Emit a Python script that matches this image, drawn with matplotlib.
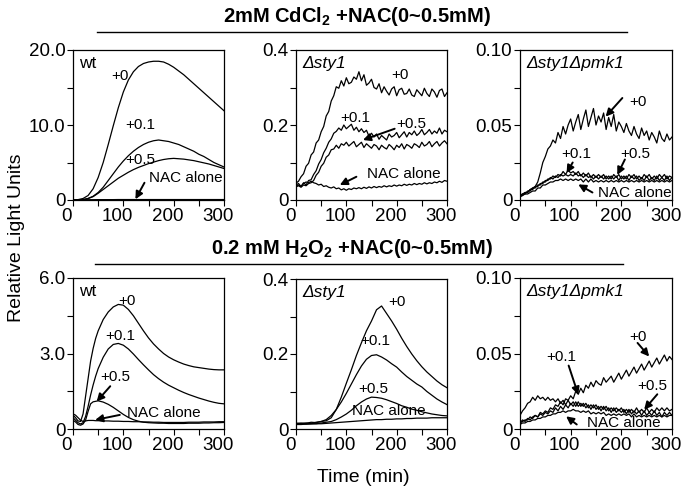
import numpy as np
import matplotlib
matplotlib.use('Agg')
import matplotlib.pyplot as plt
import matplotlib.transforms as mtransforms
from matplotlib.lines import Line2D

plt.rcParams['font.family'] = ['Liberation Sans', 'DejaVu Sans']
plt.rcParams['mathtext.fontset'] = 'custom'
plt.rcParams['mathtext.rm'] = 'Liberation Sans'
plt.rcParams['mathtext.bf'] = 'Liberation Sans:bold'

# ---------------- data ----------------
t10 = np.arange(0, 301, 10)
t5 = np.arange(0, 301, 5)
t_wt_h2o2 = [0, 5, 10, 15, 20, 25, 30, 35, 40, 45, 50] + list(range(60, 301, 10))

# CdCl2, wt
cd_wt_0 = [0.0, 0.05, 0.2, 0.6, 1.5, 3.0, 5.0, 7.4, 9.9, 12.3, 14.4, 16.0, 17.1, 17.8, 18.2, 18.4,
           18.5, 18.5, 18.4, 18.1, 17.7, 17.2, 16.7, 16.1, 15.5, 14.9, 14.3, 13.7, 13.1, 12.5, 11.9]
cd_wt_01 = [0.0, 0.0, 0.05, 0.2, 0.5, 1.0, 1.7, 2.6, 3.5, 4.4, 5.2, 5.9, 6.5, 7.0, 7.4, 7.7,
            7.9, 8.0, 7.9, 7.8, 7.6, 7.4, 7.1, 6.8, 6.5, 6.1, 5.8, 5.4, 5.0, 4.7, 4.4]
cd_wt_05 = [0.0, 0.0, 0.05, 0.2, 0.45, 0.9, 1.4, 1.9, 2.4, 2.9, 3.3, 3.7, 4.05, 4.35, 4.6, 4.85,
            5.05, 5.25, 5.4, 5.5, 5.55, 5.5, 5.45, 5.35, 5.25, 5.1, 4.95, 4.8, 4.6, 4.4, 4.2]
cd_wt_nac = [0.02, 0.03, 0.03, 0.04, 0.04, 0.05, 0.05, 0.05, 0.05, 0.06, 0.06, 0.06, 0.06, 0.06, 0.06, 0.06,
             0.06, 0.06, 0.06, 0.06, 0.06, 0.06, 0.06, 0.06, 0.06, 0.06, 0.06, 0.06, 0.06, 0.06, 0.06]

# CdCl2, sty1 deletion
cd_sty1_0 = [0.045, 0.050, 0.062, 0.070, 0.090, 0.098, 0.120, 0.128, 0.152, 0.160, 0.182, 0.196, 0.224,
             0.236, 0.264, 0.278, 0.302, 0.298, 0.318, 0.304, 0.326, 0.310, 0.314, 0.328, 0.322, 0.342,
             0.318, 0.334, 0.306, 0.312, 0.322, 0.300, 0.296, 0.310, 0.286, 0.302, 0.290, 0.280, 0.296,
             0.302, 0.278, 0.294, 0.298, 0.282, 0.284, 0.296, 0.280, 0.276, 0.294, 0.286, 0.278, 0.298,
             0.284, 0.276, 0.296, 0.288, 0.274, 0.292, 0.296, 0.276, 0.286]
cd_sty1_01 = [0.040, 0.044, 0.036, 0.046, 0.040, 0.052, 0.054, 0.068, 0.078, 0.096, 0.108, 0.126, 0.138,
              0.154, 0.163, 0.178, 0.183, 0.192, 0.186, 0.200, 0.190, 0.196, 0.202, 0.186, 0.194, 0.182,
              0.190, 0.180, 0.186, 0.170, 0.178, 0.168, 0.176, 0.162, 0.172, 0.166, 0.160, 0.176, 0.168,
              0.172, 0.180, 0.166, 0.174, 0.182, 0.168, 0.180, 0.174, 0.184, 0.172, 0.178, 0.188, 0.174,
              0.180, 0.188, 0.176, 0.184, 0.178, 0.192, 0.176, 0.186, 0.182]
cd_sty1_05 = [0.035, 0.038, 0.034, 0.040, 0.038, 0.044, 0.046, 0.052, 0.066, 0.074, 0.090, 0.098, 0.114,
              0.120, 0.134, 0.136, 0.146, 0.138, 0.150, 0.146, 0.154, 0.144, 0.150, 0.156, 0.142, 0.148,
              0.154, 0.140, 0.150, 0.144, 0.138, 0.148, 0.144, 0.134, 0.146, 0.140, 0.136, 0.148, 0.142,
              0.134, 0.146, 0.140, 0.150, 0.136, 0.148, 0.144, 0.138, 0.150, 0.146, 0.140, 0.154, 0.144,
              0.148, 0.156, 0.142, 0.150, 0.156, 0.144, 0.152, 0.158, 0.150]
cd_sty1_nac = [0.038, 0.040, 0.036, 0.044, 0.048, 0.046, 0.050, 0.046, 0.044, 0.040, 0.042, 0.036, 0.038,
               0.034, 0.032, 0.035, 0.030, 0.032, 0.027, 0.030, 0.026, 0.030, 0.028, 0.032, 0.030, 0.033,
               0.030, 0.034, 0.031, 0.035, 0.032, 0.036, 0.033, 0.036, 0.034, 0.038, 0.035, 0.038, 0.036,
               0.040, 0.037, 0.040, 0.038, 0.042, 0.039, 0.042, 0.040, 0.044, 0.041, 0.044, 0.042, 0.046,
               0.043, 0.046, 0.044, 0.048, 0.046, 0.050, 0.047, 0.052, 0.050]

# CdCl2, sty1 pmk1 double deletion
cd_dko_0 = [0.003, 0.004, 0.005, 0.005, 0.007, 0.008, 0.009, 0.012, 0.018, 0.025, 0.029, 0.034, 0.036,
            0.040, 0.038, 0.045, 0.041, 0.049, 0.044, 0.050, 0.054, 0.046, 0.052, 0.057, 0.047, 0.054,
            0.060, 0.049, 0.055, 0.061, 0.050, 0.056, 0.052, 0.058, 0.047, 0.055, 0.049, 0.057, 0.046,
            0.052, 0.049, 0.045, 0.051, 0.046, 0.043, 0.049, 0.044, 0.041, 0.048, 0.043, 0.046, 0.040,
            0.045, 0.042, 0.038, 0.046, 0.041, 0.039, 0.044, 0.040, 0.042]
cd_dko_01 = [0.003, 0.004, 0.004, 0.006, 0.006, 0.008, 0.008, 0.010, 0.010, 0.012, 0.012, 0.014, 0.014,
             0.016, 0.015, 0.017, 0.016, 0.019, 0.017, 0.020, 0.018, 0.019, 0.017, 0.019, 0.016, 0.018,
             0.016, 0.018, 0.015, 0.017, 0.015, 0.017, 0.015, 0.017, 0.014, 0.016, 0.014, 0.017, 0.015,
             0.017, 0.014, 0.016, 0.014, 0.017, 0.015, 0.017, 0.014, 0.016, 0.014, 0.017, 0.015, 0.017,
             0.014, 0.016, 0.014, 0.017, 0.015, 0.017, 0.014, 0.016, 0.015]
cd_dko_05 = [0.002, 0.003, 0.005, 0.005, 0.007, 0.007, 0.009, 0.009, 0.011, 0.011, 0.013, 0.013, 0.015,
             0.014, 0.016, 0.015, 0.017, 0.016, 0.017, 0.016, 0.017, 0.016, 0.018, 0.016, 0.017, 0.015,
             0.017, 0.015, 0.016, 0.014, 0.016, 0.014, 0.016, 0.014, 0.016, 0.014, 0.016, 0.014, 0.016,
             0.013, 0.016, 0.014, 0.016, 0.013, 0.016, 0.014, 0.016, 0.013, 0.015, 0.013, 0.016, 0.013,
             0.015, 0.013, 0.016, 0.013, 0.015, 0.013, 0.016, 0.013, 0.015]
cd_dko_nac = [0.003, 0.003, 0.004, 0.004, 0.005, 0.006, 0.006, 0.008, 0.008, 0.010, 0.010, 0.011, 0.012,
              0.012, 0.013, 0.013, 0.014, 0.013, 0.014, 0.013, 0.014, 0.013, 0.014, 0.013, 0.014, 0.012,
              0.014, 0.012, 0.014, 0.012, 0.013, 0.012, 0.013, 0.012, 0.013, 0.012, 0.013, 0.012, 0.013,
              0.012, 0.013, 0.012, 0.013, 0.012, 0.013, 0.012, 0.013, 0.012, 0.013, 0.012, 0.013, 0.012,
              0.013, 0.012, 0.013, 0.012, 0.013, 0.012, 0.013, 0.012, 0.013]

# H2O2, wt
h2_wt_0 = [0.55, 0.45, 0.32, 0.30, 0.60, 1.30, 2.00, 2.70, 3.20, 3.60, 3.90, 4.35, 4.65, 4.85, 4.95, 4.92,
           4.75, 4.50, 4.20, 3.90, 3.62, 3.38, 3.18, 3.00, 2.86, 2.75, 2.66, 2.58, 2.52, 2.47, 2.44,
           2.41, 2.38, 2.36, 2.35, 2.35]
h2_wt_01 = [0.45, 0.35, 0.25, 0.20, 0.25, 0.50, 0.90, 1.35, 1.75, 2.10, 2.40, 2.85, 3.18, 3.36, 3.40, 3.33,
            3.18, 2.98, 2.76, 2.55, 2.35, 2.16, 2.00, 1.86, 1.74, 1.64, 1.54, 1.45, 1.37, 1.30, 1.23,
            1.17, 1.11, 1.06, 1.02, 1.00]
h2_wt_05 = [0.35, 0.28, 0.18, 0.15, 0.20, 0.35, 0.70, 1.00, 1.08, 1.10, 1.12, 1.07, 0.98, 0.86, 0.72, 0.58,
            0.46, 0.37, 0.31, 0.27, 0.25, 0.24, 0.23, 0.23, 0.22, 0.22, 0.22, 0.22, 0.23, 0.23, 0.23,
            0.24, 0.24, 0.25, 0.25, 0.26]
h2_wt_nac = [0.60, 0.55, 0.45, 0.35, 0.30, 0.32, 0.34, 0.34, 0.34, 0.33, 0.33, 0.32, 0.32, 0.31, 0.31, 0.30,
             0.30, 0.29, 0.29, 0.28, 0.28, 0.27, 0.27, 0.26, 0.26, 0.26, 0.26, 0.26, 0.27, 0.27, 0.27,
             0.28, 0.28, 0.28, 0.29, 0.29]

# H2O2, sty1 deletion
h2_sty1_0 = [0.015, 0.016, 0.015, 0.018, 0.017, 0.020, 0.022, 0.030, 0.052, 0.085, 0.122, 0.158, 0.196,
             0.230, 0.262, 0.288, 0.318, 0.328, 0.308, 0.288, 0.266, 0.242, 0.220, 0.200, 0.182, 0.166,
             0.152, 0.140, 0.128, 0.118, 0.110]
h2_sty1_01 = [0.015, 0.014, 0.016, 0.015, 0.018, 0.020, 0.025, 0.036, 0.052, 0.072, 0.095, 0.120, 0.145,
              0.168, 0.186, 0.196, 0.198, 0.192, 0.184, 0.174, 0.165, 0.152, 0.140, 0.130, 0.120, 0.112,
              0.100, 0.090, 0.080, 0.072, 0.065]
h2_sty1_05 = [0.012, 0.014, 0.013, 0.015, 0.014, 0.016, 0.018, 0.020, 0.025, 0.032, 0.040, 0.050, 0.062,
              0.072, 0.080, 0.085, 0.084, 0.082, 0.078, 0.073, 0.068, 0.062, 0.058, 0.053, 0.050, 0.046,
              0.043, 0.040, 0.038, 0.036, 0.035]
h2_sty1_nac = [0.012, 0.012, 0.013, 0.013, 0.014, 0.014, 0.015, 0.016, 0.017, 0.018, 0.019, 0.020, 0.021,
               0.022, 0.023, 0.024, 0.025, 0.025, 0.026, 0.026, 0.027, 0.027, 0.028, 0.028, 0.029, 0.029,
               0.029, 0.030, 0.030, 0.030, 0.030]

# H2O2, sty1 pmk1 double deletion
h2_dko_0 = [0.004, 0.006, 0.005, 0.007, 0.006, 0.008, 0.009, 0.008, 0.011, 0.010, 0.012, 0.011, 0.014,
            0.013, 0.016, 0.015, 0.018, 0.016, 0.020, 0.019, 0.022, 0.020, 0.025, 0.023, 0.027, 0.024,
            0.029, 0.027, 0.031, 0.028, 0.032, 0.030, 0.029, 0.034, 0.031, 0.033, 0.035, 0.031, 0.034,
            0.037, 0.033, 0.036, 0.039, 0.035, 0.038, 0.041, 0.037, 0.040, 0.043, 0.039, 0.042, 0.045,
            0.041, 0.044, 0.047, 0.043, 0.046, 0.049, 0.045, 0.048, 0.046]
h2_dko_01 = [0.009, 0.012, 0.014, 0.017, 0.018, 0.021, 0.019, 0.022, 0.020, 0.021, 0.019, 0.021, 0.019,
             0.020, 0.018, 0.020, 0.017, 0.019, 0.016, 0.019, 0.016, 0.018, 0.015, 0.018, 0.015, 0.017,
             0.014, 0.016, 0.013, 0.016, 0.013, 0.015, 0.012, 0.015, 0.012, 0.014, 0.011, 0.014, 0.011,
             0.013, 0.011, 0.013, 0.010, 0.013, 0.010, 0.012, 0.010, 0.012, 0.009, 0.012, 0.009, 0.011,
             0.009, 0.012, 0.009, 0.011, 0.008, 0.011, 0.009, 0.011, 0.009]
h2_dko_05 = [0.004, 0.005, 0.006, 0.006, 0.008, 0.007, 0.009, 0.008, 0.010, 0.009, 0.011, 0.010, 0.012,
             0.011, 0.014, 0.012, 0.015, 0.013, 0.016, 0.014, 0.017, 0.015, 0.018, 0.015, 0.017, 0.015,
             0.017, 0.014, 0.016, 0.014, 0.016, 0.013, 0.015, 0.013, 0.015, 0.012, 0.014, 0.012, 0.014,
             0.012, 0.014, 0.011, 0.013, 0.011, 0.013, 0.011, 0.014, 0.011, 0.013, 0.011, 0.014, 0.011,
             0.013, 0.011, 0.014, 0.012, 0.014, 0.012, 0.014, 0.012, 0.013]
h2_dko_nac = [0.003, 0.004, 0.004, 0.005, 0.005, 0.006, 0.006, 0.007, 0.007, 0.008, 0.008, 0.009, 0.009,
              0.010, 0.010, 0.011, 0.011, 0.012, 0.011, 0.012, 0.012, 0.013, 0.012, 0.012, 0.011, 0.012,
              0.011, 0.012, 0.010, 0.011, 0.010, 0.011, 0.010, 0.011, 0.009, 0.010, 0.009, 0.010, 0.009,
              0.010, 0.009, 0.010, 0.009, 0.010, 0.008, 0.010, 0.008, 0.009, 0.008, 0.009, 0.008, 0.009,
              0.008, 0.009, 0.008, 0.009, 0.008, 0.009, 0.008, 0.009, 0.009]

x_ticks = [0, 50, 100, 150, 200, 250, 300]
x_ticklabels = ['0', '', '100', '', '200', '', '300']


def W(px):
    return px / 681.0


def H(px):
    return px / 487.0


def make_axes(fig, left, top, right, bottom):
    ax = fig.add_axes([W(left), 1 - H(bottom), W(right - left), H(bottom - top)])
    ax.set_xlim(0, 300)
    ax.set_xticks(x_ticks)
    ax.set_xticklabels(x_ticklabels)
    ax.tick_params(direction='out', length=4, width=0.8, labelsize=13.5, pad=1.5)
    # the original's time labels sit a little left of their ticks
    shift = mtransforms.ScaledTranslation(-0.06, 0, fig.dpi_scale_trans)
    for lab in ax.get_xticklabels():
        lab.set_transform(lab.get_transform() + shift)
    for s in ax.spines.values():
        s.set_linewidth(0.9)
    return ax


def set_y(ax, ymax, ticks, labels):
    ax.set_ylim(0, ymax)
    ax.set_yticks(ticks)
    ax.set_yticklabels(labels)


def draw(ax, t, curves):
    for y in curves:
        ax.plot(t, y, color='black', lw=0.9)


def arrow(ax, tail, head):
    ax.annotate('', xy=head, xytext=tail,
                arrowprops=dict(arrowstyle='-|>', color='black', lw=1.4, mutation_scale=11,
                                shrinkA=0, shrinkB=0))


def label(ax, x, y, s):
    ax.text(x, y, s, fontsize=11, ha='center', va='center')


def strain(ax, s):
    ax.text(0.04, 0.91, s, transform=ax.transAxes, fontsize=12.5, style='italic',
            ha='left', va='center')


fig = plt.figure(figsize=(6.81, 4.87), dpi=100)

# ---- top row: CdCl2 ----
ax1 = make_axes(fig, 73, 50, 224, 200)
draw(ax1, t10, [cd_wt_0, cd_wt_01, cd_wt_05, cd_wt_nac])
set_y(ax1, 20, [0, 5, 10, 15, 20], ['0', '', '10.0', '', '20.0'])
ax1.text(0.04, 0.91, 'wt', transform=ax1.transAxes, fontsize=12.5, ha='left', va='center')
label(ax1, 93, 16.5, '+0')
label(ax1, 133, 10.0, '+0.1')
label(ax1, 133, 5.4, '+0.5')
label(ax1, 225, 2.9, 'NAC alone')
arrow(ax1, (142, 2.3), (124, 0.1))

ax2 = make_axes(fig, 296, 50, 447, 200)
draw(ax2, t5, [cd_sty1_0, cd_sty1_01, cd_sty1_05, cd_sty1_nac])
set_y(ax2, 0.4, [0, 0.1, 0.2, 0.3, 0.4], ['0', '', '0.2', '', '0.4'])
strain(ax2, '\u0394sty1')
label(ax2, 206, 0.333, '+0')
label(ax2, 117, 0.22, '+0.1')
label(ax2, 228, 0.203, '+0.5')
arrow(ax2, (196, 0.19), (133, 0.16))
label(ax2, 214, 0.069, 'NAC alone')
arrow(ax2, (120, 0.062), (87, 0.04))

ax3 = make_axes(fig, 520, 50, 672, 200)
draw(ax3, t5, [cd_dko_0, cd_dko_01, cd_dko_05, cd_dko_nac])
set_y(ax3, 0.10, [0, 0.025, 0.05, 0.075, 0.10], ['0', '', '0.05', '', '0.10'])
strain(ax3, '\u0394sty1\u0394pmk1')
label(ax3, 232, 0.0656, '+0')
arrow(ax3, (202, 0.068), (169, 0.0556))
label(ax3, 112, 0.031, '+0.1')
arrow(ax3, (104, 0.025), (92, 0.018))
label(ax3, 228, 0.031, '+0.5')
arrow(ax3, (207, 0.027), (192, 0.0167))
label(ax3, 226, 0.0045, 'NAC alone')
arrow(ax3, (143, 0.005), (115, 0.0104))

# ---- bottom row: H2O2 ----
ax4 = make_axes(fig, 73, 278, 224, 429)
draw(ax4, t_wt_h2o2, [h2_wt_0, h2_wt_01, h2_wt_05, h2_wt_nac])
set_y(ax4, 6, [0, 1.5, 3, 4.5, 6], ['0', '', '3.0', '', '6.0'])
ax4.text(0.04, 0.91, 'wt', transform=ax4.transAxes, fontsize=12.5, ha='left', va='center')
label(ax4, 107, 5.1, '+0')
label(ax4, 93, 3.68, '+0.1')
label(ax4, 83, 2.08, '+0.5')
arrow(ax4, (74, 1.7), (47, 1.09))
label(ax4, 181, 0.62, 'NAC alone')
arrow(ax4, (93, 0.56), (44, 0.36))

ax5 = make_axes(fig, 296, 279, 447, 429)
draw(ax5, t10, [h2_sty1_0, h2_sty1_01, h2_sty1_05, h2_sty1_nac])
set_y(ax5, 0.4, [0, 0.1, 0.2, 0.3, 0.4], ['0', '', '0.2', '', '0.4'])
strain(ax5, '\u0394sty1')
label(ax5, 200, 0.34, '+0')
label(ax5, 157, 0.234, '+0.1')
label(ax5, 154, 0.107, '+0.5')
label(ax5, 184, 0.047, 'NAC alone')

ax6 = make_axes(fig, 520, 278, 672, 429)
draw(ax6, t5, [h2_dko_0, h2_dko_01, h2_dko_05, h2_dko_nac])
set_y(ax6, 0.10, [0, 0.025, 0.05, 0.075, 0.10], ['0', '', '0.05', '', '0.10'])
strain(ax6, '\u0394sty1\u0394pmk1')
label(ax6, 232, 0.061, '+0')
arrow(ax6, (232, 0.057), (255, 0.048))
label(ax6, 82, 0.0477, '+0.1')
arrow(ax6, (96, 0.042), (115, 0.0227))
label(ax6, 262, 0.0283, '+0.5')
arrow(ax6, (271, 0.023), (245, 0.0128))
label(ax6, 205, 0.0042, 'NAC alone')
arrow(ax6, (112, 0.003), (91, 0.0084))

# ---- titles, separators and shared axis labels ----
fig.text(W(357), 1 - H(17), r'2mM CdCl$_\mathbf{2}$ +NAC(0~0.5mM)', fontsize=14.5,
         fontweight='bold', ha='center', va='center')
fig.add_artist(Line2D([W(97), W(627)], [1 - H(32), 1 - H(32)], color='black', lw=1.0))
fig.text(W(352), 1 - H(248), r'0.2 mM H$_\mathbf{2}$O$_\mathbf{2}$ +NAC(0~0.5mM)', fontsize=14.5,
         fontweight='bold', ha='center', va='center')
fig.add_artist(Line2D([W(95), W(623)], [1 - H(264), 1 - H(264)], color='black', lw=1.0))

fig.text(W(17), 1 - H(238), 'Relative Light Units', fontsize=14, rotation=90,
         ha='center', va='center')
fig.text(W(363), 1 - H(477), 'Time (min)', fontsize=14, ha='center', va='center')

fig.savefig('out.png', dpi=100)
